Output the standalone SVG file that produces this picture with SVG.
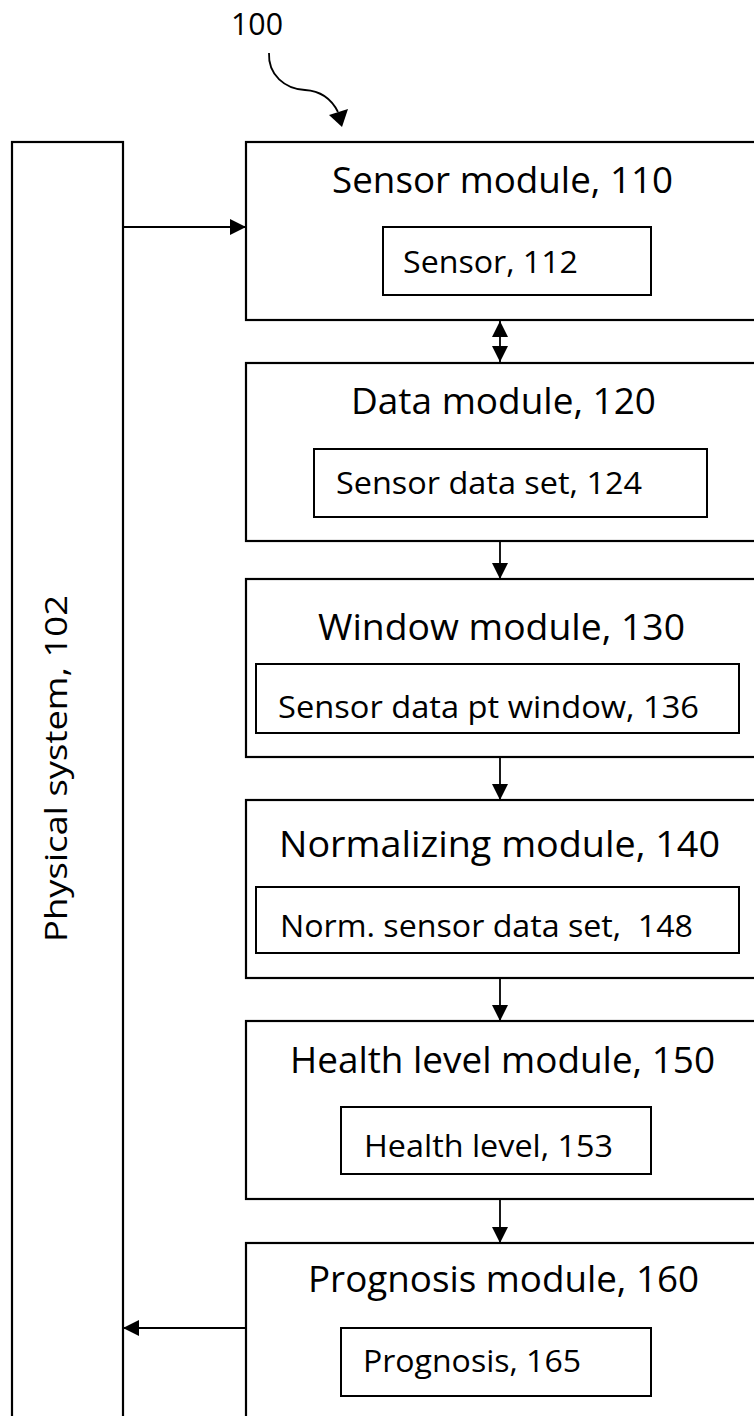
<svg xmlns="http://www.w3.org/2000/svg" width="754" height="1416" viewBox="0 0 754 1416">
<style>
.box{fill:#fff;stroke:#000;stroke-width:2.2}
.inner{fill:#fff;stroke:#000;stroke-width:2}
.t{font-family:"Open Sans","Liberation Sans",Arial,sans-serif;fill:#000}
.title{font-size:36px}
.sub{font-size:31px}
.conn{stroke:#000;stroke-width:1.8;fill:none}
</style>
<defs>
<marker id="ah" viewBox="0 0 16 16" markerWidth="16" markerHeight="16" refX="16" refY="8" orient="auto-start-reverse" markerUnits="userSpaceOnUse">
<path d="M0,0 L16,8 L0,16 z" fill="#000"/>
</marker>
</defs>
<g id="label100">
<text class="t" x="231" y="35" font-size="31" textLength="52" lengthAdjust="spacingAndGlyphs">100</text>
<path d="M269,53 C268,75 285,89 305,90 C322,91 332,100 338,112" class="conn" stroke-width="2"/>
<polygon points="342,127 329,115 348,109" fill="#000"/>
</g>
<g id="physical-system">
<rect class="box" x="12" y="142" width="111" height="1300"/>
<text class="t sub" transform="translate(67,942) rotate(-90)" x="0" y="0" textLength="347" lengthAdjust="spacingAndGlyphs">Physical system, 102</text>
</g>
<g id="sensor-module">
<rect class="box" x="246" y="142" width="530" height="178"/>
<text class="t title" x="332" y="193" textLength="341" lengthAdjust="spacingAndGlyphs">Sensor module, 110</text>
<rect class="inner" x="383" y="227" width="268" height="68"/>
<text class="t sub" x="403" y="273" textLength="175" lengthAdjust="spacingAndGlyphs">Sensor, 112</text>
</g>
<g id="data-module">
<rect class="box" x="246" y="363" width="530" height="178"/>
<text class="t title" x="351" y="414" textLength="305" lengthAdjust="spacingAndGlyphs">Data module, 120</text>
<rect class="inner" x="314" y="449" width="393" height="68"/>
<text class="t sub" x="336" y="494" textLength="306" lengthAdjust="spacingAndGlyphs">Sensor data set, 124</text>
</g>
<g id="window-module">
<rect class="box" x="246" y="579" width="530" height="178"/>
<text class="t title" x="318" y="640" textLength="367" lengthAdjust="spacingAndGlyphs">Window module, 130</text>
<rect class="inner" x="256" y="664" width="483" height="69"/>
<text class="t sub" x="278" y="718" textLength="421" lengthAdjust="spacingAndGlyphs">Sensor data pt window, 136</text>
</g>
<g id="normalizing-module">
<rect class="box" x="246" y="800" width="530" height="178"/>
<text class="t title" x="279" y="857" textLength="441" lengthAdjust="spacingAndGlyphs">Normalizing module, 140</text>
<rect class="inner" x="256" y="887" width="483" height="66"/>
<text class="t sub" x="280" y="937" textLength="413" lengthAdjust="spacingAndGlyphs" xml:space="preserve">Norm. sensor data set,  148</text>
</g>
<g id="health-level-module">
<rect class="box" x="246" y="1021" width="530" height="178"/>
<text class="t title" x="290" y="1073" textLength="425" lengthAdjust="spacingAndGlyphs">Health level module, 150</text>
<rect class="inner" x="341" y="1107" width="310" height="67"/>
<text class="t sub" x="364" y="1157" textLength="249" lengthAdjust="spacingAndGlyphs">Health level, 153</text>
</g>
<g id="prognosis-module">
<rect class="box" x="246" y="1243" width="530" height="200"/>
<text class="t title" x="308" y="1292" textLength="391" lengthAdjust="spacingAndGlyphs">Prognosis module, 160</text>
<rect class="inner" x="341" y="1328" width="310" height="68"/>
<text class="t sub" x="363" y="1372" textLength="218" lengthAdjust="spacingAndGlyphs">Prognosis, 165</text>
</g>
<g id="connectors">
<line class="conn" x1="123" y1="227" x2="246" y2="227" marker-end="url(#ah)"/>
<line class="conn" x1="500" y1="321" x2="500" y2="362" marker-start="url(#ah)" marker-end="url(#ah)"/>
<line class="conn" x1="500" y1="541" x2="500" y2="579" marker-end="url(#ah)"/>
<line class="conn" x1="500" y1="757" x2="500" y2="800" marker-end="url(#ah)"/>
<line class="conn" x1="500" y1="978" x2="500" y2="1021" marker-end="url(#ah)"/>
<line class="conn" x1="500" y1="1199" x2="500" y2="1243" marker-end="url(#ah)"/>
<line class="conn" x1="246" y1="1328" x2="123" y2="1328" marker-end="url(#ah)"/>
</g>
</svg>
